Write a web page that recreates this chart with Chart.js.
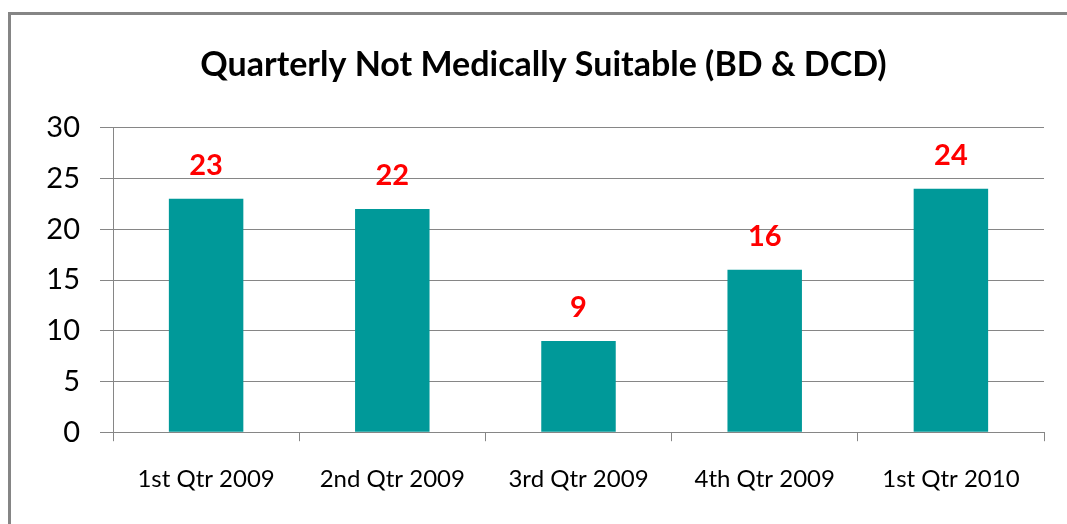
<!DOCTYPE html>
<html>
<head>
<meta charset="utf-8">
<script src="https://cdn.jsdelivr.net/npm/chart.js@4.4.1/dist/chart.umd.min.js"></script>
<style>
    html, body { margin: 0; padding: 0; background: #fff; }
    #wrap { position: relative; width: 1067px; height: 524px; overflow: hidden; }
    #frame { position: absolute; left: 8px; top: 12px; width: 1100px; height: 600px;
             border-left: 3px solid #858585; border-top: 3px solid #858585; }
    canvas { position: absolute; left: 0; top: 0; }
</style>
</head>
<body>
<div id="wrap">
    <div id="frame"></div>
    <canvas id="chart" width="1067" height="524"></canvas>
</div>
<script>
const categories = ['1st Qtr 2009', '2nd Qtr 2009', '3rd Qtr 2009', '4th Qtr 2009', '1st Qtr 2010'];
const values = [23, 22, 9, 16, 24];
const yTicks = [0, 5, 10, 15, 20, 25, 30];

const fontFamily = 'Lato, "Open Sans", sans-serif';

// draws the red value above each bar
const valueLabels = {
    id: 'valueLabels',
    afterDatasetsDraw(chart) {
        const ctx = chart.ctx;
        const meta = chart.getDatasetMeta(0);
        ctx.save();
        ctx.fillStyle = '#ff0000';
        ctx.font = 'bold 29px ' + fontFamily;
        ctx.textAlign = 'center';
        ctx.textBaseline = 'alphabetic';
        meta.data.forEach(function(bar, i) {
            ctx.fillText(values[i], bar.x, bar.y - 24);
        });
        ctx.restore();
    }
};

new Chart(document.getElementById('chart').getContext('2d'), {
    type: 'bar',
    data: {
        labels: categories,
        datasets: [{
            data: values,
            backgroundColor: '#009999',
            borderWidth: 0,
            barPercentage: 0.4,
            categoryPercentage: 1
        }]
    },
    options: {
        responsive: false,
        animation: false,
        layout: { padding: { left: 43, right: 23, top: 45, bottom: 6 } },
        plugins: {
            legend: { display: false },
            tooltip: { enabled: false },
            title: {
                display: true,
                text: 'Quarterly Not Medically Suitable (BD & DCD)',
                color: '#000',
                font: { family: fontFamily, size: 34, weight: 'bold' },
                padding: { top: 0, bottom: 42 }
            }
        },
        scales: {
            x: {
                grid: { drawOnChartArea: false, color: '#868686', tickLength: 9, offset: true },
                border: { color: '#868686', width: 1 },
                ticks: { color: '#000', font: { family: fontFamily, size: 24 }, padding: 24 }
            },
            y: {
                min: 0,
                max: 30,
                afterBuildTicks(axis) { axis.ticks = yTicks.map(v => ({ value: v })); },
                afterFit(axis) { axis.width = 70; },
                grid: { color: '#868686', tickLength: 13 },
                border: { color: '#868686', width: 1 },
                ticks: { color: '#000', font: { family: fontFamily, size: 29 }, padding: 20 }
            }
        }
    },
    plugins: [valueLabels]
});
</script>
</body>
</html>
